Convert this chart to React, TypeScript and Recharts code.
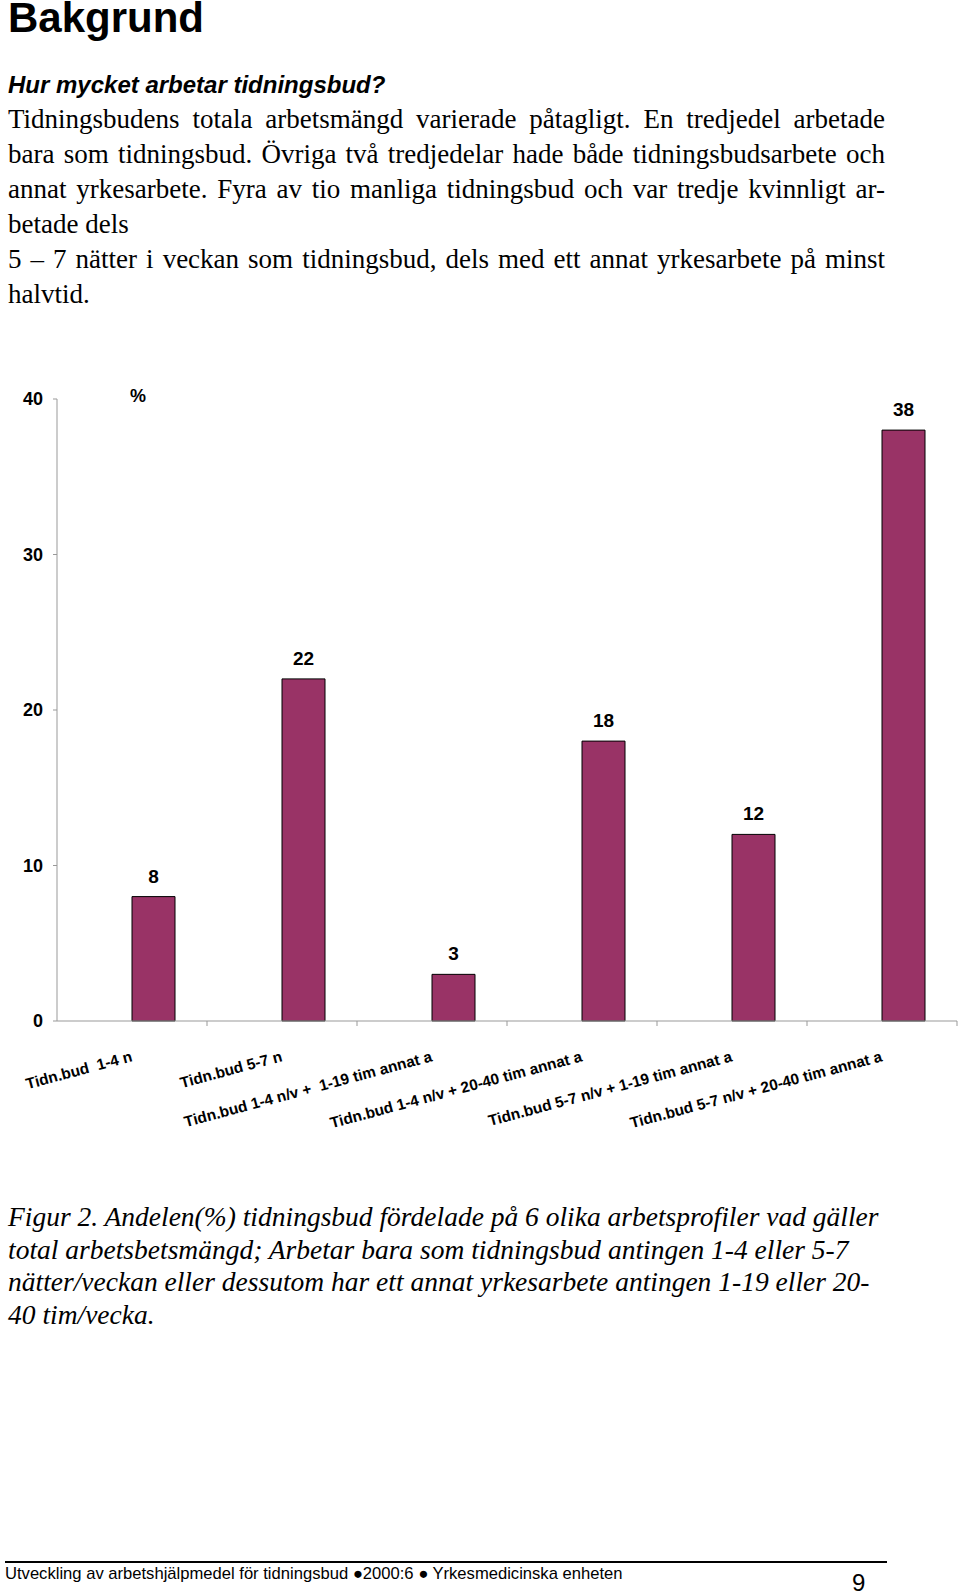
import React from 'react';
import { BarChart, Bar, XAxis, YAxis, LabelList } from 'recharts';

const categories = [
  'Tidn.bud  1-4 n',
  'Tidn.bud 5-7 n',
  'Tidn.bud 1-4 n/v +  1-19 tim annat a',
  'Tidn.bud 1-4 n/v + 20-40 tim annat a',
  'Tidn.bud 5-7 n/v + 1-19 tim annat a',
  'Tidn.bud 5-7 n/v + 20-40 tim annat a',
];
// andel tidningsbud (%) per arbetsprofil
const andel = [8, 22, 3, 18, 12, 38];
// tom första serie, som i originalet (stapeln står till höger i gruppen)
const tom = [null, null, null, null, null, null];
const yTicks = [0, 10, 20, 30, 40];

const data = categories.map((name, i) => ({ name, tom: tom[i], andel: andel[i] }));

const CHART_W = 960;
const CHART_H = 781;
const MARGIN = { top: 20, right: 3, left: 0, bottom: 0 };
const Y_W = 57;
const BAND = (CHART_W - MARGIN.left - MARGIN.right - Y_W) / categories.length;

const bodyLines: [string, boolean][] = [
  ['Tidningsbudens totala arbetsmängd varierade påtagligt. En tredjedel arbetade', true],
  ['bara som tidningsbud. Övriga två tredjedelar hade både tidningsbudsarbete och', true],
  ['annat yrkesarbete. Fyra av tio manliga tidningsbud och var tredje kvinnligt ar-', true],
  ['betade dels', false],
  ['5 – 7 nätter i veckan som tidningsbud, dels med ett annat yrkesarbete på minst', true],
  ['halvtid.', false],
];

const captionLines = [
  'Figur 2. Andelen(%) tidningsbud fördelade på 6 olika arbetsprofiler vad gäller',
  'total arbetsbetsmängd; Arbetar bara som tidningsbud antingen 1-4 eller 5-7',
  'nätter/veckan eller dessutom har ett annat yrkesarbete antingen 1-19 eller 20-',
  '40 tim/vecka.',
];

const sans = '"Liberation Sans", Arial, sans-serif';
const serif = '"Liberation Serif", "Times New Roman", serif';

function CategoryTick(props: any) {
  const { x, y, payload } = props;
  const tx = x + 1;
  const ty = y + 40;
  return (
    <g>
      <line x1={x + BAND / 2} y1={y} x2={x + BAND / 2} y2={y + 5} stroke="#999" />
      <text
        x={tx}
        y={ty}
        textAnchor="end"
        transform={`rotate(-15, ${tx}, ${ty})`}
        fontFamily={sans}
        fontWeight="bold"
        fontSize={15.4}
        fill="#000"
        style={{ whiteSpace: 'pre' }}
      >
        {payload.value}
      </text>
    </g>
  );
}

export default function App() {
  return (
    <div
      style={{
        position: 'absolute',
        top: 0,
        left: 0,
        width: 960,
        height: 1594,
        background: '#fff',
        overflow: 'hidden',
        color: '#000',
      }}
    >
      <div style={{ position: 'absolute', top: 0, left: 8, fontFamily: sans, fontWeight: 'bold', fontSize: 42, lineHeight: '36px' }}>
        Bakgrund
      </div>
      <div style={{ position: 'absolute', top: 73.2, left: 8, fontFamily: sans, fontWeight: 'bold', fontStyle: 'italic', fontSize: 24, lineHeight: '24px' }}>
        Hur mycket arbetar tidningsbud?
      </div>
      <div style={{ position: 'absolute', top: 102.4, left: 8, width: 877, fontFamily: serif, fontSize: 27, lineHeight: '35px' }}>
        {bodyLines.map(([t, j], i) => (
          <div key={i} style={{ whiteSpace: 'nowrap', textAlign: j ? 'justify' : 'left', textAlignLast: j ? 'justify' : 'left' }}>
            {t}
          </div>
        ))}
      </div>

      <div style={{ position: 'absolute', top: 379, left: 0 }}>
        <BarChart width={CHART_W} height={CHART_H} data={data} margin={MARGIN} barGap={0} barSize={43}>
          <XAxis
            dataKey="name"
            interval={0}
            height={CHART_H - MARGIN.top - 622}
            tickSize={0}
            tickMargin={0}
            tick={<CategoryTick />}
            axisLine={{ stroke: '#999' }}
            tickLine={false}
          />
          <YAxis
            width={Y_W}
            domain={[0, 40]}
            ticks={yTicks}
            interval={0}
            tickSize={4}
            tickMargin={10}
            axisLine={{ stroke: '#999' }}
            tickLine={{ stroke: '#999' }}
            tick={{ fontFamily: sans, fontWeight: 'bold', fontSize: 18, fill: '#000' }}
            label={{
              content: (p: any) => (
                <text
                  x={p.viewBox.x + 138}
                  y={p.viewBox.y + 3}
                  textAnchor="middle"
                  fontFamily={sans}
                  fontWeight="bold"
                  fontSize={18}
                  fill="#000"
                >
                  %
                </text>
              ),
            }}
          />
          <Bar dataKey="tom" fill="#993366" isAnimationActive={false} />
          <Bar dataKey="andel" fill="#993366" stroke="#000" strokeWidth={1} isAnimationActive={false}>
            <LabelList
              dataKey="andel"
              position="top"
              offset={14}
              fontFamily={sans}
              fontWeight="bold"
              fontSize={19}
              fill="#000"
            />
          </Bar>
        </BarChart>
      </div>

      <div style={{ position: 'absolute', top: 1201, left: 8, fontFamily: serif, fontStyle: 'italic', fontSize: 27.5, lineHeight: '32.5px' }}>
        {captionLines.map((t, i) => (
          <div key={i} style={{ whiteSpace: 'nowrap' }}>
            {t}
          </div>
        ))}
      </div>

      <div style={{ position: 'absolute', top: 1561, left: 5, width: 882, height: 2, background: '#000' }} />
      <div style={{ position: 'absolute', top: 1565, left: 5, fontFamily: sans, fontSize: 16.6, lineHeight: '17px', whiteSpace: 'nowrap' }}>
        Utveckling av arbetshjälpmedel för tidningsbud ●2000:6 ● Yrkesmedicinska enheten
      </div>
      <div style={{ position: 'absolute', top: 1573.5, left: 852, fontFamily: sans, fontSize: 24, lineHeight: '18px' }}>
        9
      </div>
    </div>
  );
}
